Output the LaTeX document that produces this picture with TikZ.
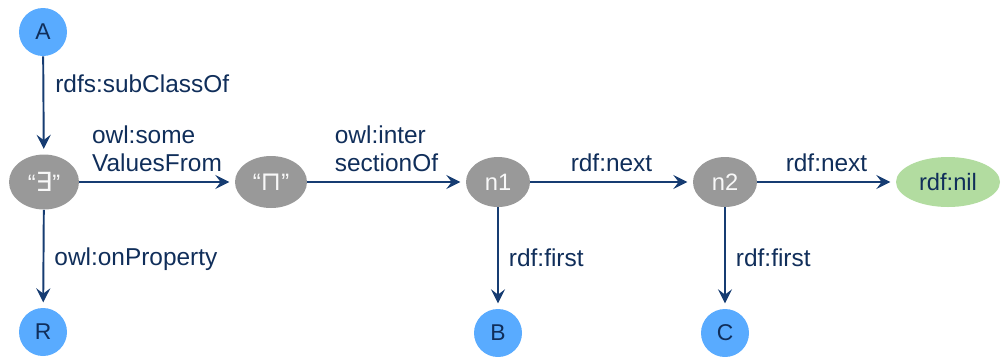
\documentclass[tikz,border=0pt]{standalone}
\usepackage{fontspec}
\setmainfont{Liberation Sans}
\newfontfamily\symbfont{DejaVu Sans}
\usepackage{tikz}
\usetikzlibrary{shapes,positioning}
\usetikzlibrary{arrows.meta}
\definecolor{lien}{RGB}{22,60,114}
\definecolor{texte}{RGB}{16,46,90}
\definecolor{bleu}{RGB}{89,171,255}
\definecolor{gris}{RGB}{153,153,153}
\definecolor{vert}{RGB}{178,220,160}
\tikzset{
	classe/.style={circle,fill=bleu,text=texte,minimum size=0.96cm,inner sep=0pt,font=\fontsize{13}{15}\selectfont},
	vide/.style={ellipse,fill=gris,text=white!93!gris,inner sep=0pt,minimum width=1.28cm,minimum height=1cm,font=\fontsize{13.5}{15}\selectfont},
	fin/.style={ellipse,fill=vert,text=texte,inner sep=0pt,minimum width=2.08cm,minimum height=1cm,font=\fontsize{13.5}{15}\selectfont},
	prop/.style={draw=lien,line width=1.1pt,-{Stealth[length=8pt,width=8pt,inset=3pt]},shorten >=3pt},
	etiq/.style={text=texte,font=\fontsize{13.9}{15.9}\selectfont,inner sep=0pt,align=left}
}

\begin{document}
\begin{tikzpicture}
	\useasboundingbox (0,0) rectangle (20.04,-7.12);
	
	%Classes
	\node[classe] (A) at (0.86,-0.64) {A};
	\node[classe] (R) at (0.86,-6.64) {R};
	\node[classe] (B) at (9.96,-6.66) {B};
	\node[classe] (C) at (14.5,-6.66) {C};
	
	%Noeuds vides
	\node[vide,minimum width=1.4cm,minimum height=1.1cm] (E) at (0.88,-3.64) {``{\symbfont\fontsize{15}{17}\selectfont ∃}''};
	\node[vide,minimum width=1.44cm,minimum height=1.04cm] (I) at (5.42,-3.64) {``{\symbfont\fontsize{15}{17}\selectfont ⊓}''};
	\node[vide] (n1) at (9.96,-3.64) {n1};
	\node[vide] (n2) at (14.5,-3.64) {n2};
	\node[fin] (nil) at (18.96,-3.64) {rdf:nil};
	
	%Proprietes
	\draw[prop] (A) -- node[etiq,pos=0.28,anchor=west,xshift=0.22cm] {rdfs:subClassOf} (E);
	\draw[prop] (E) -- node[etiq,pos=0.5,anchor=west,xshift=0.2cm] {owl:onProperty} (R);
	\draw[prop] (E) -- node[etiq,midway,above,yshift=0.18cm] {owl:some\\ValuesFrom} (I);
	\draw[prop] (I) -- node[etiq,midway,above,yshift=0.18cm] {owl:inter\\sectionOf} (n1);
	
	%Liste
	\draw[prop] (n1) -- node[etiq,midway,above,yshift=0.18cm] {rdf:next} (n2);
	\draw[prop] (n2) -- node[etiq,midway,above,yshift=0.18cm] {rdf:next} (nil);
	\draw[prop] (n1) -- node[etiq,midway,anchor=west,xshift=0.2cm] {rdf:first} (B);
	\draw[prop] (n2) -- node[etiq,midway,anchor=west,xshift=0.2cm] {rdf:first} (C);
	
\end{tikzpicture}
\end{document}
